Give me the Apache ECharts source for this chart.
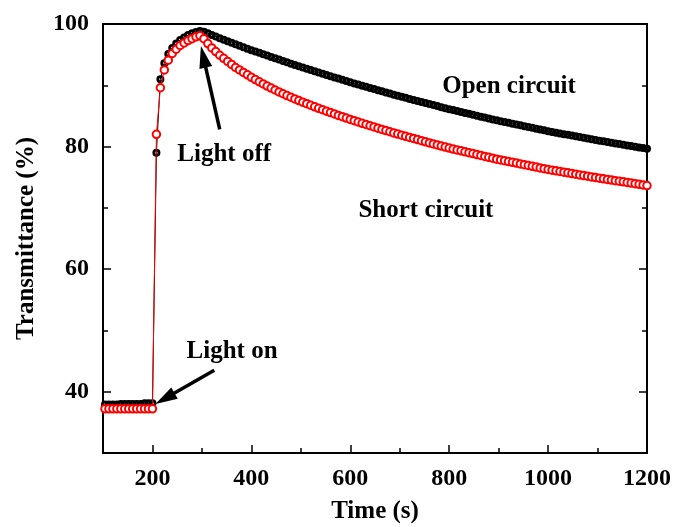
<!DOCTYPE html>
<html>
<head>
<meta charset="utf-8">
<script src="https://cdn.jsdelivr.net/npm/echarts@6/dist/echarts.min.js"></script>
<style>
  html, body { margin: 0; padding: 0; background: #fff; }
  #chart { width: 674px; height: 527px; }
</style>
</head>
<body>
<div id="chart"></div>
<script>
// Sampling grid of the measurement (s)
const sampleStart = 104;
const sampleStep = 8;

// Open circuit transmittance (%): dark, illuminated (200–300 s), bleaching after light off
const openDark = [37.9, 37.9, 37.9, 37.9, 38.0, 38.0, 38.0, 38.0, 38.0, 38.0, 38.1, 38.1, 38.1];
const openLit = [79.0, 91.0, 93.6, 95.1, 96.1, 96.8, 97.4, 97.8, 98.2, 98.5, 98.7, 98.85];
const openAfter = [
  98.75, 98.49, 98.22, 97.95, 97.68, 97.41,
  97.17, 96.93, 96.69, 96.45, 96.21, 95.97, 95.73,
  95.51, 95.29, 95.07, 94.85, 94.63, 94.41, 94.19, 93.97, 93.75, 93.53, 93.31, 93.09,
  92.89, 92.69, 92.49, 92.29, 92.09, 91.89, 91.69, 91.49, 91.29, 91.09, 90.89, 90.69, 90.49,
  90.31, 90.12, 89.94, 89.75, 89.57, 89.39, 89.20, 89.02, 88.83, 88.65, 88.47, 88.28,
  88.11, 87.95, 87.78, 87.61, 87.44, 87.27, 87.11, 86.94, 86.77, 86.60, 86.43, 86.27, 86.10,
  85.95, 85.80, 85.64, 85.49, 85.34, 85.19, 85.04, 84.88, 84.73, 84.58, 84.43, 84.28,
  84.14, 84.01, 83.87, 83.74, 83.60, 83.46, 83.33, 83.19, 83.06, 82.92, 82.78, 82.65, 82.51,
  82.39, 82.27, 82.15, 82.03, 81.91, 81.79, 81.67, 81.55, 81.43, 81.31, 81.19, 81.07,
  80.96, 80.85, 80.74, 80.63, 80.52, 80.41, 80.30, 80.19, 80.08, 79.97, 79.86, 79.75, 79.64
];

// Short circuit transmittance (%)
const shortDark = [37.2, 37.2, 37.2, 37.2, 37.2, 37.2, 37.2, 37.2, 37.2, 37.2, 37.2, 37.2, 37.2];
const shortLit = [82.0, 89.6, 92.5, 94.1, 95.2, 95.9, 96.5, 96.9, 97.3, 97.6, 97.9, 98.1];
const shortAfter = [
  97.6, 96.8, 96.1, 95.5, 94.9, 94.4,
  93.9, 93.4, 92.9, 92.5, 92.1, 91.7, 91.3,
  90.93, 90.57, 90.22, 89.88, 89.55, 89.23, 88.92, 88.62, 88.33, 88.05, 87.78, 87.51,
  87.25, 86.99, 86.74, 86.49, 86.25, 86.01, 85.78, 85.55, 85.32, 85.09, 84.87, 84.65, 84.43,
  84.22, 84.01, 83.80, 83.60, 83.40, 83.20, 83.00, 82.80, 82.61, 82.42, 82.23, 82.04,
  81.86, 81.68, 81.50, 81.32, 81.14, 80.96, 80.78, 80.60, 80.43, 80.26, 80.09, 79.92, 79.75,
  79.60, 79.45, 79.30, 79.15, 79.00, 78.85, 78.70, 78.55, 78.40, 78.25, 78.10, 77.95,
  77.82, 77.69, 77.56, 77.43, 77.30, 77.17, 77.04, 76.91, 76.78, 76.65, 76.52, 76.39, 76.26,
  76.15, 76.04, 75.93, 75.82, 75.71, 75.60, 75.49, 75.38, 75.27, 75.16, 75.05, 74.94,
  74.84, 74.74, 74.64, 74.54, 74.44, 74.34, 74.24, 74.14, 74.04, 73.94, 73.84, 73.74, 73.64
];

// Axis ticks
const xMajorTicks = [200, 400, 600, 800, 1000, 1200];
const xMinorTicks = [300, 500, 700, 900, 1100];
const yMajorTicks = [40, 60, 80, 100];
const yMinorTicks = [50, 70, 90];

const serif = "'Liberation Serif', 'Times New Roman', serif";

// Thick-rimmed ring marker (outer radius 1, small hole) for the open-circuit trace
const ringSymbol = 'path://M0,-10A10,10 0 1,1 0,10A10,10 0 1,1 0,-10Z' +
                   'M0,-3A3,3 0 1,0 0,3A3,3 0 1,0 0,-3Z';

function toPairs(values) {
  return values.map((v, i) => [sampleStart + i * sampleStep, v]);
}
const openData = toPairs(openDark.concat(openLit, openAfter));
const shortData = toPairs(shortDark.concat(shortLit, shortAfter));

const labelStyle = { fontFamily: serif, fontWeight: 'bold', fontSize: 24, color: '#000',
                     formatter: (v) => String(v) };
const nameStyle = { fontFamily: serif, fontWeight: 'bold', fontSize: 25, color: '#000' };
const axisLine = { show: true, onZero: false, lineStyle: { color: '#000', width: 2 } };

function xAxisDef(ticks, len, withLabels) {
  return {
    type: 'value', min: 100, max: 1200, position: 'bottom',
    axisLine: withLabels ? axisLine : { show: false },
    axisTick: { show: true, inside: true, length: len, customValues: ticks,
                lineStyle: { color: '#000', width: 1.5 } },
    axisLabel: withLabels
      ? Object.assign({ show: true, margin: 14, customValues: ticks }, labelStyle)
      : { show: false },
    splitLine: { show: false },
    name: withLabels ? 'Time (s)' : '',
    nameLocation: 'middle', nameGap: 46, nameTextStyle: nameStyle
  };
}
function yAxisDef(pos, ticks, len, withLabels, withLine) {
  return {
    type: 'value', min: 30, max: 100, position: pos,
    axisLine: withLine ? axisLine : { show: false },
    axisTick: { show: true, inside: true, length: len, customValues: ticks,
                lineStyle: { color: '#000', width: 1.5 } },
    axisLabel: withLabels
      ? Object.assign({ show: true, margin: 14, customValues: ticks }, labelStyle)
      : { show: false },
    splitLine: { show: false },
    name: withLabels ? 'Transmittance (%)' : '',
    nameLocation: 'middle', nameGap: 64, nameRotate: 90, nameTextStyle: nameStyle
  };
}

const chart = echarts.init(document.getElementById('chart'), null, { renderer: 'canvas' });

chart.setOption({
  animation: false,
  backgroundColor: '#fff',
  grid: { left: 103, right: 27, top: 24, bottom: 74, show: true,
          outerBoundsMode: 'none', containLabel: false,
          borderColor: '#000', borderWidth: 2, backgroundColor: 'transparent' },
  xAxis: [ xAxisDef(xMajorTicks, 8, true), xAxisDef(xMinorTicks, 5, false) ],
  yAxis: [
    yAxisDef('left', yMajorTicks, 8, true, true),
    yAxisDef('left', yMinorTicks, 5, false, false),
    yAxisDef('right', yMajorTicks, 8, false, true),
    yAxisDef('right', yMinorTicks, 5, false, false)
  ],
  series: [
    {
      name: 'Open circuit', type: 'line', xAxisIndex: 0, yAxisIndex: 0,
      data: openData, showAllSymbol: true,
      symbol: ringSymbol, symbolSize: 8, symbolKeepAspect: true,
      lineStyle: { color: '#000', width: 1 },
      itemStyle: { color: '#000', borderWidth: 0 },
      z: 2
    },
    {
      name: 'Short circuit', type: 'line', xAxisIndex: 0, yAxisIndex: 0,
      data: shortData, showAllSymbol: true,
      symbol: 'emptyCircle', symbolSize: 7.5,
      lineStyle: { color: '#ff0000', width: 1 },
      itemStyle: { color: '#ff0000', borderColor: '#ff0000', borderWidth: 1.2 },
      z: 3
    }
  ]
});

// Annotations anchored in data coordinates
function px(pt) { return chart.convertToPixel({ xAxisIndex: 0, yAxisIndex: 0 }, pt); }

function arrow(tail, tip, headLen, headHalf, width) {
  const a = px(tail), b = px(tip);
  const dx = b[0] - a[0], dy = b[1] - a[1];
  const L = Math.hypot(dx, dy), ux = dx / L, uy = dy / L;
  const base = [b[0] - ux * headLen, b[1] - uy * headLen];
  const nx = -uy, ny = ux;
  return [
    { type: 'line', z: 10,
      shape: { x1: a[0], y1: a[1], x2: base[0] + ux * 3, y2: base[1] + uy * 3 },
      style: { stroke: '#000', lineWidth: width } },
    { type: 'polygon', z: 10,
      shape: { points: [b, [base[0] + nx * headHalf, base[1] + ny * headHalf],
                           [base[0] - nx * headHalf, base[1] - ny * headHalf]] },
      style: { fill: '#000' } }
  ];
}

function label(text, at) {
  const p = px(at);
  return { type: 'text', x: p[0], y: p[1], z: 10,
    style: { text: text, fill: '#000', font: "bold 25px 'Liberation Serif', 'Times New Roman', serif",
             textAlign: 'center', textVerticalAlign: 'middle', align: 'center', verticalAlign: 'middle' } };
}

chart.setOption({
  graphic: [].concat(
    arrow([336, 82.8], [298, 96.4], 22, 6.5, 3.5),
    arrow([325, 43.5], [206, 38.0], 22, 6.5, 3.5),
    [
      label('Light off', [345, 78.7]),
      label('Open circuit', [921, 89.8]),
      label('Short circuit', [753, 69.6]),
      label('Light on', [361, 46.5])
    ]
  )
});
</script>
</body>
</html>
